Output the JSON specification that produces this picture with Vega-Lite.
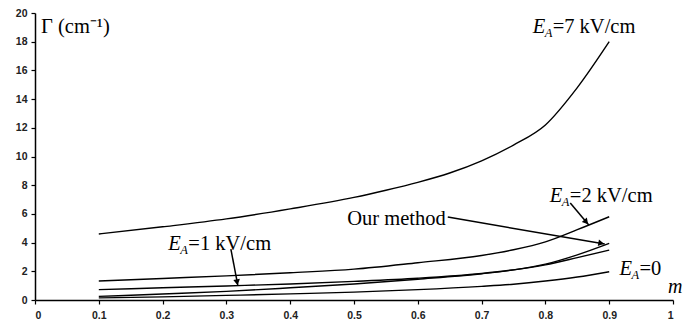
{
  "$schema": "https://vega.github.io/schema/vega-lite/v6.json",
  "width": 638,
  "height": 287,
  "padding": {"left": 35, "top": 13, "right": 10, "bottom": 23},
  "autosize": {"type": "none"},
  "background": "white",
  "config": {
    "view": {"stroke": null},
    "axis": {
      "grid": false,
      "title": null,
      "labelFont": "Liberation Sans",
      "labelFontSize": 10.5,
      "labelFontWeight": "bold",
      "labelColor": "#222",
      "labelOverlap": false,
      "domainColor": "black",
      "domainWidth": 1.5,
      "tickColor": "black",
      "tickWidth": 1.2,
      "tickSize": 4
    }
  },
  "datasets": {
    "curves": [
      {"series": "7 kV/cm", "m": 0.1, "g": 4.6},
      {"series": "7 kV/cm", "m": 0.2, "g": 5.1},
      {"series": "7 kV/cm", "m": 0.3, "g": 5.65},
      {"series": "7 kV/cm", "m": 0.4, "g": 6.35},
      {"series": "7 kV/cm", "m": 0.5, "g": 7.15},
      {"series": "7 kV/cm", "m": 0.55, "g": 7.65},
      {"series": "7 kV/cm", "m": 0.6, "g": 8.2},
      {"series": "7 kV/cm", "m": 0.65, "g": 8.85},
      {"series": "7 kV/cm", "m": 0.7, "g": 9.7},
      {"series": "7 kV/cm", "m": 0.75, "g": 10.8},
      {"series": "7 kV/cm", "m": 0.8, "g": 12.2},
      {"series": "7 kV/cm", "m": 0.85, "g": 14.8},
      {"series": "7 kV/cm", "m": 0.9, "g": 18.0},
      {"series": "2 kV/cm", "m": 0.1, "g": 1.32},
      {"series": "2 kV/cm", "m": 0.2, "g": 1.5},
      {"series": "2 kV/cm", "m": 0.3, "g": 1.68},
      {"series": "2 kV/cm", "m": 0.4, "g": 1.9},
      {"series": "2 kV/cm", "m": 0.5, "g": 2.15},
      {"series": "2 kV/cm", "m": 0.6, "g": 2.6},
      {"series": "2 kV/cm", "m": 0.7, "g": 3.1},
      {"series": "2 kV/cm", "m": 0.75, "g": 3.5},
      {"series": "2 kV/cm", "m": 0.8, "g": 4.05},
      {"series": "2 kV/cm", "m": 0.85, "g": 4.9},
      {"series": "2 kV/cm", "m": 0.9, "g": 5.8},
      {"series": "1 kV/cm", "m": 0.1, "g": 0.72},
      {"series": "1 kV/cm", "m": 0.2, "g": 0.85},
      {"series": "1 kV/cm", "m": 0.3, "g": 0.98},
      {"series": "1 kV/cm", "m": 0.4, "g": 1.12},
      {"series": "1 kV/cm", "m": 0.5, "g": 1.3},
      {"series": "1 kV/cm", "m": 0.6, "g": 1.52},
      {"series": "1 kV/cm", "m": 0.7, "g": 1.85},
      {"series": "1 kV/cm", "m": 0.75, "g": 2.1},
      {"series": "1 kV/cm", "m": 0.8, "g": 2.45},
      {"series": "1 kV/cm", "m": 0.85, "g": 2.95},
      {"series": "1 kV/cm", "m": 0.9, "g": 3.48},
      {"series": "Our method", "m": 0.1, "g": 0.25},
      {"series": "Our method", "m": 0.2, "g": 0.42},
      {"series": "Our method", "m": 0.3, "g": 0.6},
      {"series": "Our method", "m": 0.4, "g": 0.85},
      {"series": "Our method", "m": 0.5, "g": 1.12},
      {"series": "Our method", "m": 0.6, "g": 1.45},
      {"series": "Our method", "m": 0.7, "g": 1.83},
      {"series": "Our method", "m": 0.75, "g": 2.1},
      {"series": "Our method", "m": 0.8, "g": 2.5},
      {"series": "Our method", "m": 0.85, "g": 3.15},
      {"series": "Our method", "m": 0.9, "g": 3.95},
      {"series": "0", "m": 0.1, "g": 0.15},
      {"series": "0", "m": 0.2, "g": 0.22},
      {"series": "0", "m": 0.3, "g": 0.32},
      {"series": "0", "m": 0.4, "g": 0.43},
      {"series": "0", "m": 0.5, "g": 0.55},
      {"series": "0", "m": 0.6, "g": 0.72},
      {"series": "0", "m": 0.7, "g": 0.95},
      {"series": "0", "m": 0.75, "g": 1.1},
      {"series": "0", "m": 0.8, "g": 1.32},
      {"series": "0", "m": 0.85, "g": 1.6},
      {"series": "0", "m": 0.9, "g": 1.97}
    ],
    "eLabels": [
      {"m": 0.78, "g": 18.6, "rest": "=7 kV/cm"},
      {"m": 0.807, "g": 6.83, "rest": "=2 kV/cm"},
      {"m": 0.209, "g": 3.48, "rest": "=1 kV/cm"},
      {"m": 0.916, "g": 1.74, "rest": "=0"}
    ],
    "notes": [
      {"m": 0.4895, "g": 5.23, "text": "Our method"},
      {"m": 0.0094, "g": 18.6, "text": "Γ (cm⁻¹)"}
    ],
    "axisName": [
      {"m": 0.992, "g": 0.5, "text": "m"}
    ],
    "arrows": [
      {"name": "E1", "m": 0.307, "g": 3.55, "m2": 0.318, "g2": 1.0},
      {"name": "ours", "m": 0.647, "g": 5.78, "m2": 0.893, "g2": 3.9},
      {"name": "E2", "m": 0.839, "g": 6.76, "m2": 0.868, "g2": 5.23}
    ],
    "heads": [
      {"name": "E1", "m": 0.3165, "g": 1.3},
      {"name": "ours", "m": 0.886, "g": 3.97},
      {"name": "E2", "m": 0.863, "g": 5.49}
    ]
  },
  "encoding": {
    "x": {"field": "m", "type": "quantitative", "scale": {"domain": [0, 1], "nice": false},
          "axis": {"values": [0, 0.1, 0.2, 0.3, 0.4, 0.5, 0.6, 0.7, 0.8, 0.9, 1], "format": "~g", "labelPadding": 6, "labelOverlap": false}},
    "y": {"field": "g", "type": "quantitative", "scale": {"domain": [0, 20], "nice": false},
          "axis": {"values": [0, 2, 4, 6, 8, 10, 12, 14, 16, 18, 20], "labelPadding": 4, "labelOverlap": false}}
  },
  "layer": [
    {
      "data": {"name": "curves"},
      "mark": {"type": "line", "interpolate": "monotone", "color": "black", "strokeWidth": 1.4},
      "encoding": {"detail": {"field": "series"}}
    },
    {
      "data": {"name": "arrows"},
      "mark": {"type": "rule", "color": "black", "strokeWidth": 1.5},
      "encoding": {"x2": {"field": "m2"}, "y2": {"field": "g2"}}
    },
    {
      "data": {"name": "heads"},
      "transform": [{"filter": "datum.name === 'E1'"}],
      "mark": {"type": "point", "shape": "triangle", "filled": true, "color": "black", "opacity": 1, "size": 45, "angle": 170}
    },
    {
      "data": {"name": "heads"},
      "transform": [{"filter": "datum.name === 'ours'"}],
      "mark": {"type": "point", "shape": "triangle", "filled": true, "color": "black", "opacity": 1, "size": 45, "angle": 100}
    },
    {
      "data": {"name": "heads"},
      "transform": [{"filter": "datum.name === 'E2'"}],
      "mark": {"type": "point", "shape": "triangle", "filled": true, "color": "black", "opacity": 1, "size": 45, "angle": 139}
    },
    {
      "data": {"name": "eLabels"},
      "mark": {"type": "text", "text": "E", "font": "Liberation Serif", "fontStyle": "italic", "fontSize": 20.5, "align": "left", "baseline": "alphabetic", "color": "black"}
    },
    {
      "data": {"name": "eLabels"},
      "mark": {"type": "text", "text": "A", "font": "Liberation Serif", "fontStyle": "italic", "fontSize": 12.5, "align": "left", "baseline": "alphabetic", "dx": 12, "dy": 4, "color": "black"}
    },
    {
      "data": {"name": "eLabels"},
      "mark": {"type": "text", "font": "Liberation Serif", "fontSize": 20.5, "align": "left", "baseline": "alphabetic", "dx": 20, "color": "black"},
      "encoding": {"text": {"field": "rest"}}
    },
    {
      "data": {"name": "notes"},
      "mark": {"type": "text", "font": "Liberation Serif", "fontSize": 20.5, "align": "left", "baseline": "alphabetic", "color": "black"},
      "encoding": {"text": {"field": "text"}}
    },
    {
      "data": {"name": "axisName"},
      "mark": {"type": "text", "font": "Liberation Serif", "fontStyle": "italic", "fontSize": 20, "align": "left", "baseline": "alphabetic", "color": "black"},
      "encoding": {"text": {"field": "text"}}
    }
  ]
}
